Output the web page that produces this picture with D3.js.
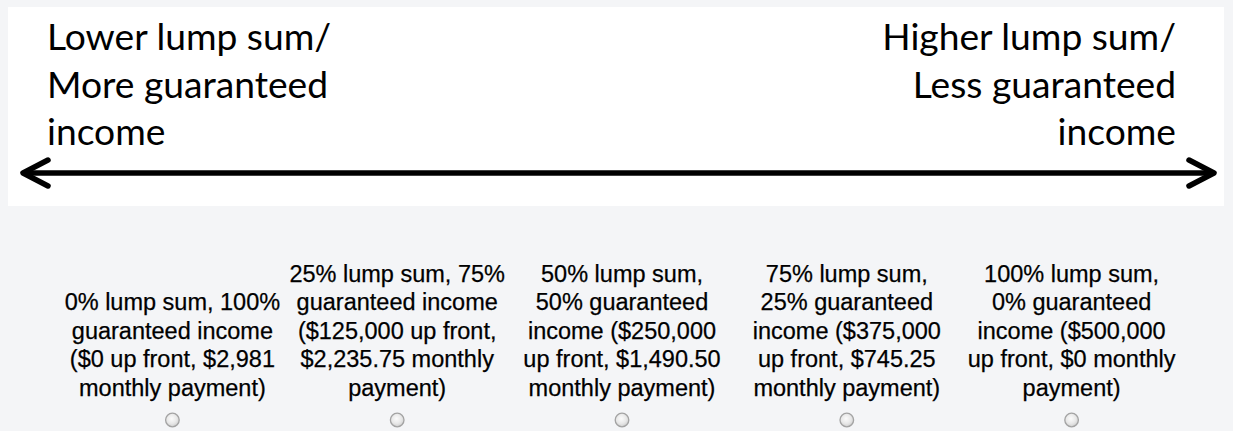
<!DOCTYPE html>
<html>
<head>
<meta charset="utf-8">
<script src="https://cdn.jsdelivr.net/npm/d3@7"></script>
<style>
  html, body { margin: 0; padding: 0; background: #f4f5f7; }
  svg { display: block; }
</style>
</head>
<body>
<div id="chart"></div>
<script>
// scale ends (top panel)
var leftLabel = ["Lower lump sum/", "More guaranteed", "income"];
var rightLabel = ["Higher lump sum/", "Less guaranteed", "income"];

// answer options
var lumpPct = [0, 25, 50, 75, 100];
var optionLines = [
  ["0% lump sum, 100%", "guaranteed income", "($0 up front, $2,981", "monthly payment)"],
  ["25% lump sum, 75%", "guaranteed income", "($125,000 up front,", "$2,235.75 monthly", "payment)"],
  ["50% lump sum,", "50% guaranteed", "income ($250,000", "up front, $1,490.50", "monthly payment)"],
  ["75% lump sum,", "25% guaranteed", "income ($375,000", "up front, $745.25", "monthly payment)"],
  ["100% lump sum,", "0% guaranteed", "income ($500,000", "up front, $0 monthly", "payment)"]
];

var width = 1233, height = 431;

var svg = d3.select("#chart").append("svg")
    .attr("width", width)
    .attr("height", height);

var defs = svg.append("defs");
var grad = defs.append("radialGradient")
    .attr("id", "radioGrad")
    .attr("cx", "45%").attr("cy", "40%").attr("r", "60%");
grad.append("stop").attr("offset", "0%").attr("stop-color", "#fbfbfb");
grad.append("stop").attr("offset", "60%").attr("stop-color", "#e8e8e8");
grad.append("stop").attr("offset", "100%").attr("stop-color", "#cfcfcf");

// white panel with the arrow
svg.append("rect")
    .attr("x", 8).attr("y", 7)
    .attr("width", 1216).attr("height", 199)
    .attr("fill", "#ffffff");

var scaleX = d3.scaleLinear().domain([0, 100]).range([23, 1214]);

var arrowY = 173;
svg.append("line")
    .attr("x1", scaleX(0) + 2).attr("x2", scaleX(100) - 2)
    .attr("y1", arrowY).attr("y2", arrowY)
    .attr("stroke", "#000").attr("stroke-width", 5.5);

svg.append("path")
    .attr("d", "M" + (scaleX(0) + 25) + "," + (arrowY - 13) + "L" + scaleX(0) + "," + arrowY + "L" + (scaleX(0) + 25) + "," + (arrowY + 13))
    .attr("fill", "none").attr("stroke", "#000").attr("stroke-width", 5.5)
    .attr("stroke-linecap", "round").attr("stroke-linejoin", "round");
svg.append("path")
    .attr("d", "M" + (scaleX(100) - 25) + "," + (arrowY - 13) + "L" + scaleX(100) + "," + arrowY + "L" + (scaleX(100) - 25) + "," + (arrowY + 13))
    .attr("fill", "none").attr("stroke", "#000").attr("stroke-width", 5.5)
    .attr("stroke-linecap", "round").attr("stroke-linejoin", "round");

var endFont = "Lato, 'Open Sans', sans-serif";
svg.append("g").selectAll("text")
    .data(leftLabel)
    .enter().append("text")
    .attr("x", 47)
    .attr("y", function(d, i) { return 50 + i * 47.5; })
    .attr("font-family", endFont)
    .attr("font-size", 37.2)
    .attr("fill", "#000")
    .text(function(d) { return d; });

svg.append("g").selectAll("text")
    .data(rightLabel)
    .enter().append("text")
    .attr("x", 1176)
    .attr("y", function(d, i) { return 50 + i * 47.5; })
    .attr("text-anchor", "end")
    .attr("font-family", endFont)
    .attr("font-size", 37.2)
    .attr("fill", "#000")
    .text(function(d) { return d; });

// option columns
var x = d3.scaleBand()
    .domain(lumpPct)
    .range([60, 1184]);

var lastBaseline = 395.5, lineH = 28.5;

var cols = svg.append("g").selectAll("g")
    .data(lumpPct)
    .enter().append("g")
    .attr("transform", function(d) { return "translate(" + (x(d) + x.bandwidth() / 2) + ",0)"; });

cols.each(function(d, i) {
    var lines = optionLines[i];
    var g = d3.select(this);
    g.selectAll("text")
        .data(lines)
        .enter().append("text")
        .attr("x", 0)
        .attr("y", function(t, j) { return lastBaseline - (lines.length - 1 - j) * lineH; })
        .attr("text-anchor", "middle")
        .attr("font-family", "Arial, 'Liberation Sans', sans-serif")
        .attr("font-size", 23.5)
        .attr("fill", "#000")
        .attr("stroke", "#000")
        .attr("stroke-width", 0.25)
        .text(function(t) { return t; });
});

cols.append("circle")
    .attr("cx", 0).attr("cy", 420)
    .attr("r", 6.8)
    .attr("fill", "url(#radioGrad)")
    .attr("stroke", "#a3a3a3")
    .attr("stroke-width", 1.3);
</script>
</body>
</html>
